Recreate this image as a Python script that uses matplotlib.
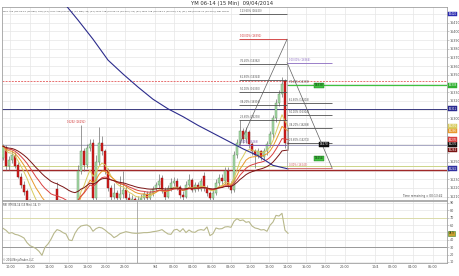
import numpy as np
import pandas as pd
import matplotlib
matplotlib.use("Agg")
import matplotlib.pyplot as plt
import matplotlib.transforms as mtransforms

title = "YM 06-14 (15 Min)  09/04/2014"

# 15 min bars (the low stretch is under the window)
opens = [16254, 16266, 16245, 16252, 16257, 16246, 16233, 16224, 16216, 16206,
         16192, 16186, 16180, 16184, 16175, 16180, 16186, 16181, 16219, 16206,
         16192, 16195, 16186, 16180, 16189, 16201, 16240, 16262, 16246, 16266,
         16272, 16208, 16250, 16272, 16262, 16240, 16220, 16210, 16214, 16208,
         16213, 16218, 16209, 16203, 16207, 16202, 16206, 16209, 16213, 16208,
         16214, 16219, 16224, 16231, 16218, 16210, 16220, 16226, 16228, 16221,
         16212, 16210, 16224, 16229, 16218, 16224, 16219, 16234, 16220, 16214,
         16208, 16214, 16226, 16232, 16228, 16240, 16224, 16218, 16258, 16272,
         16285, 16276, 16284, 16270, 16262, 16258, 16262, 16256, 16262, 16270,
         16282, 16300, 16318, 16328, 16343, 16272]
highs = [16271, 16269, 16257, 16264, 16261, 16250, 16237, 16228, 16219, 16207,
         16198, 16190, 16188, 16187, 16184, 16189, 16190, 16200, 16227, 16206,
         16198, 16197, 16190, 16192, 16204, 16246, 16292, 16266, 16271, 16276,
         16276, 16258, 16290, 16280, 16265, 16243, 16224, 16226, 16218, 16234,
         16240, 16222, 16214, 16212, 16210, 16211, 16213, 16216, 16216, 16218,
         16222, 16227, 16236, 16235, 16221, 16224, 16232, 16233, 16231, 16224,
         16216, 16228, 16236, 16232, 16227, 16227, 16232, 16238, 16223, 16217,
         16218, 16230, 16236, 16236, 16244, 16244, 16228, 16262, 16276, 16298,
         16289, 16290, 16287, 16273, 16265, 16266, 16264, 16266, 16274, 16286,
         16304, 16322, 16333, 16347, 16345, 16290]
lows = [16252, 16241, 16241, 16249, 16243, 16231, 16220, 16212, 16201, 16188,
        16182, 16176, 16174, 16170, 16171, 16176, 16178, 16179, 16203, 16188,
        16186, 16182, 16176, 16177, 16186, 16198, 16236, 16240, 16243, 16262,
        16203, 16205, 16246, 16258, 16236, 16216, 16205, 16207, 16203, 16205,
        16208, 16206, 16199, 16200, 16198, 16199, 16203, 16206, 16205, 16206,
        16211, 16216, 16220, 16214, 16206, 16208, 16217, 16222, 16218, 16208,
        16206, 16208, 16221, 16215, 16215, 16216, 16216, 16217, 16211, 16205,
        16206, 16212, 16222, 16224, 16225, 16220, 16214, 16215, 16254, 16268,
        16272, 16272, 16266, 16258, 16243, 16254, 16252, 16252, 16258, 16267,
        16278, 16296, 16314, 16325, 16266, 16265]
closes = [16268, 16245, 16252, 16258, 16245, 16233, 16223, 16215, 16206, 16192,
          16186, 16180, 16184, 16175, 16180, 16186, 16181, 16198, 16206, 16192,
          16195, 16186, 16180, 16189, 16201, 16240, 16262, 16246, 16266, 16270,
          16208, 16250, 16272, 16262, 16240, 16220, 16210, 16214, 16208, 16213,
          16218, 16209, 16203, 16207, 16202, 16206, 16209, 16213, 16208, 16214,
          16219, 16224, 16228, 16217, 16210, 16220, 16226, 16228, 16221, 16212,
          16210, 16224, 16229, 16218, 16224, 16219, 16228, 16220, 16214, 16208,
          16214, 16226, 16232, 16228, 16240, 16224, 16218, 16258, 16272, 16285,
          16276, 16284, 16270, 16262, 16258, 16262, 16256, 16262, 16270, 16282,
          16300, 16318, 16328, 16340, 16272, 16270]

rsi = [55.7, 53.0, 48.9, 49.8, 47.5, 46.6, 44.8, 42.5, 36.2, 32.1,
       30.4, 28.1, 24.5, 19.0, 30.0, 34.4, 40.8, 48.9, 53.9, 52.5,
       49.8, 48.0, 39.8, 39.0, 48.9, 55.2, 58.8, 59.7, 60.2, 57.9,
       51.6, 55.2, 57.0, 56.1, 53.4, 49.8, 47.1, 43.0, 45.2, 48.4,
       49.8, 51.1, 50.2, 49.3, 48.9, 48.9, 49.3, 49.8, 49.8, 50.2,
       51.1, 51.6, 52.5, 53.9, 50.7, 48.0, 47.5, 53.4, 54.3, 51.1,
       55.2, 49.8, 53.4, 50.7, 50.2, 53.0, 53.9, 53.0, 57.5, 45.7,
       48.4, 56.1, 54.8, 55.2, 57.5, 57.9, 57.0, 65.1, 68.8, 66.1,
       67.0, 63.8, 64.7, 58.8, 56.1, 55.2, 53.4, 53.9, 51.6, 59.7,
       64.2, 73.2, 72.3, 76.0, 53.0, 48.9]

# the long average comes in from above the window, only a few readings of it
slow_bars = [15, 20, 25, 30, 35, 40, 45, 50, 55, 60, 65, 70, 75, 80, 85, 90, 95]
slow_vals = [16456, 16434, 16413, 16391, 16367, 16351, 16336, 16322, 16311,
             16302, 16292, 16283, 16274, 16265, 16257, 16246, 16242]

# horizontal lines across the whole chart
levels = [16343, 16311, 16269, 16245, 16241]

# fib drawings: start bar, end bar, low, high
fib_a = [78.7, 94.7, 16269, 16391]
fib_a_ratios = [0, 0.236, 0.382, 0.5, 0.618, 0.764, 1.0, 1.236]
fib_b = [94.7, 109.7, 16243, 16364]
fib_b_ratios = [0, 0.236, 0.382, 0.5, 0.618, 0.786, 1.0]

green_level = 16338
green_mark = 16254
high_note_bar = 26

time_pos = [2.33, 9, 15.33, 21.67, 28, 34.33, 40.67, 50.67, 57, 63.33, 69.67,
            76, 82.33, 88.67, 94.67, 101, 107.33, 114, 124, 130, 136.67, 143.33]
time_lbl = ["10:00", "12:00", "14:00", "16:00", "18:00", "20:00", "22:00", "9/4",
            "02:00", "04:00", "06:00", "08:00", "10:00", "12:00", "14:00", "16:00",
            "18:00", "20:00", "10/4", "02:00", "04:00", "06:00"]
session_bar = 44.67

W, H = 460, 276
fig = plt.figure(figsize=(W / 100, H / 100), dpi=100)
fig.patch.set_facecolor("white")

def box(px_l, px_t, px_r, px_b):
    return [px_l / W, 1 - px_b / H, (px_r - px_l) / W, (px_b - px_t) / H]

ax = fig.add_axes(box(2, 7, 447, 200))
ax2 = fig.add_axes(box(2, 201, 447, 263))

small = 2.4
for a in (ax, ax2):
    for s in a.spines.values():
        s.set_color("#a0a0a0")
        s.set_linewidth(0.6)
    a.set_facecolor("white")
    a.yaxis.tick_right()
    a.tick_params(axis="y", length=1.2, width=0.4, color="#a0a0a0",
                  labelsize=small, pad=1, labelcolor="#505050")
    a.set_xlim(-0.33, 148)
    a.set_xticks(time_pos)
    a.grid(True, color="#e6e6e6", lw=0.5)
    a.set_axisbelow(True)

ax.tick_params(axis="x", length=0, labelbottom=False)
ax2.set_xticklabels(time_lbl)
ax2.tick_params(axis="x", length=0, labelsize=small, pad=1.5, labelcolor="#505050")

# ---- price panel
ax.set_ylim(16206.2, 16428)

lvl_col = ["#e87070", "#3a3a80", "#a8a8c4", "#ccd488", "#a02828"]
lvl_ls = [(0, (2, 1.2)), "-", "-", "-", "-"]
lvl_lw = [0.7, 0.7, 0.7, 0.7, 1.0]
for v, c, ls, lw in zip(levels, lvl_col, lvl_ls, lvl_lw):
    ax.axhline(v, color=c, ls=ls, lw=lw, zorder=1)

x = np.arange(len(closes))
o = np.array(opens)
c = np.array(closes)
up = c >= o
ax.vlines(x, lows, highs, color="#707070", lw=0.5, zorder=3)
ax.bar(x[up], np.maximum(c - o, 0.6)[up], bottom=o[up], width=0.7,
       color="#a8dca8", edgecolor="#5c8c5c", lw=0.3, zorder=4)
ax.bar(x[~up], (o - c)[~up], bottom=c[~up], width=0.7,
       color="#d41c1c", edgecolor="#8a1010", lw=0.3, zorder=4)

# moving averages
cs = pd.Series(closes, dtype=float)
ma_spec = [(8, "#d8cc60"), (13, "#e8982c"), (21, "#d84040"), (34, "#7a1414")]
ma_last = []
for span, col in ma_spec:
    m = cs.ewm(span=span, adjust=False).mean()
    ax.plot(x, m, color=col, lw=0.7, zorder=5)
    ma_last.append((m.iloc[-1], col))
ax.plot(slow_bars, slow_vals, color="#2c2c8c", lw=0.8, zorder=5)
ma_last.append((slow_vals[-1], "#3030a0"))

# fib drawings
def fib(spec, ratios, top_col, low_col, lab_dx):
    x0, x1, lo, hi = spec
    for r in ratios:
        v = lo + r * (hi - lo)
        col = "#505050"
        if r == 1.0:
            col = top_col
        elif r == 0:
            col = low_col
        ax.hlines(v, x0, x1, color=col, lw=0.6, zorder=6)
        ax.text(x0 + lab_dx, v + 1.0, "%.2f%% (%d)" % (r * 100, round(v)),
                fontsize=1.8, color=col, va="bottom", ha="left", zorder=7)

fib(fib_a, fib_a_ratios, "#d03030", "#7a5ab0", 0.4)
fib(fib_b, fib_b_ratios, "#8a6ac0", "#d06060", 0.6)
ax.plot([fib_a[0], fib_a[1]], [fib_a[2], fib_a[3]], color="#606060", lw=0.5, zorder=6)
ax.plot([fib_b[0], fib_b[1]], [fib_b[3], fib_b[2]], color="#606060", lw=0.5, zorder=6)
ax.vlines(fib_a[1], fib_b[2], fib_a[3], color="#909090", lw=0.4, zorder=6)

# green marker line and tags inside the chart
ax.hlines(green_level, 95, 148, color="#40c040", lw=0.9, zorder=6)
for v in (green_level, green_mark):
    ax.text(104, v, "%d" % v, fontsize=2.0, color="#103010",
            va="center", ha="left", zorder=8,
            bbox=dict(boxstyle="square,pad=0.25", fc="#40c040", ec="#208020", lw=0.3))
ax.text(105.5, closes[-1], "%d" % closes[-1], fontsize=2.0, color="white",
        va="center", ha="left", zorder=8,
        bbox=dict(boxstyle="square,pad=0.25", fc="#101010", ec="#101010", lw=0.3))

ax.text(high_note_bar - 1.5, highs[high_note_bar] + 1,
        "%d (%d)" % (highs[high_note_bar], highs[high_note_bar]),
        fontsize=1.8, color="#d03030", ha="center", va="bottom", zorder=7)

# price tags on the right axis, they sit on top of the scale like in NT
tr = mtransforms.blended_transform_factory(ax.transAxes, ax.transData)
tags = [(16420, "#2a2ab0"), (green_level, "#30b030"), (levels[1], "#2a2a90"),
        (closes[-1], "#101010")] + ma_last
for v, col in tags:
    ax.text(1.004, v, "%d" % round(v), transform=tr, fontsize=1.9, color="white",
            va="center", ha="left", clip_on=False, zorder=9,
            bbox=dict(boxstyle="square,pad=0.15", fc=col, ec=col, lw=0.3))

yt = np.arange(16210, 16421, 10)
ax.set_yticks(yt)
tag_vals = np.array([t[0] for t in tags])
ax.set_yticklabels(["" if np.min(np.abs(tag_vals - t)) < 4.5 else "%d" % t for t in yt])

ax.text(0.003, 0.985, "Mov Avg (YM 06-14 (15 Min), 200) (21), Mov Avg (YM 06-14 (15 Min), 34) (21), "
        "Mov Avg (YM 06-14 (15 Min), 21) (21), Mov Avg (YM 06-14 (15 Min), 13) (21), "
        "Fib (YM 06-14 (15 Min)), Bar Timer",
        transform=ax.transAxes, fontsize=1.75, color="#404040", va="top", ha="left")
ax.text(0.99, 0.012, "Time remaining = 00:13:42", transform=ax.transAxes,
        fontsize=2.1, color="#404040", ha="right", va="bottom")
fig.text(0.505, 1 - 4 / H, title, fontsize=3.8, color="#303030", ha="center", va="center")

# ---- RSI panel
ax2.set_ylim(8.6, 92.7)
rt = np.arange(10, 91, 10)
ax2.set_yticks(rt)
ax2.set_yticklabels(["" if abs(t - rsi[-1]) < 4.5 else "%d" % t for t in rt])
ax2.axhline(70, color="#d8d8a0", lw=0.6)
ax2.axhline(30, color="#8c8c8c", lw=0.6)
ax2.axvline(session_bar, color="#909090", lw=0.5)
ax2.plot(x, rsi, color="#b8b88c", lw=0.8)
tr2 = mtransforms.blended_transform_factory(ax2.transAxes, ax2.transData)
ax2.text(1.004, rsi[-1], "%.1f" % rsi[-1], transform=tr2, fontsize=1.9, color="#203010",
         va="center", ha="left", clip_on=False,
         bbox=dict(boxstyle="square,pad=0.2", fc="#c8a030", ec="#3a8a2a", lw=0.4))
ax2.text(0.003, 0.97, "RSI (YM 06-14 (15 Min), 14, 3)", transform=ax2.transAxes,
         fontsize=1.8, color="#404040", va="top", ha="left")
ax2.text(0.003, 0.02, "\u00a9 2014 NinjaTrader, LLC", transform=ax2.transAxes,
         fontsize=1.8, color="#404040", va="bottom", ha="left")

fig.savefig("out.png", dpi=100)
